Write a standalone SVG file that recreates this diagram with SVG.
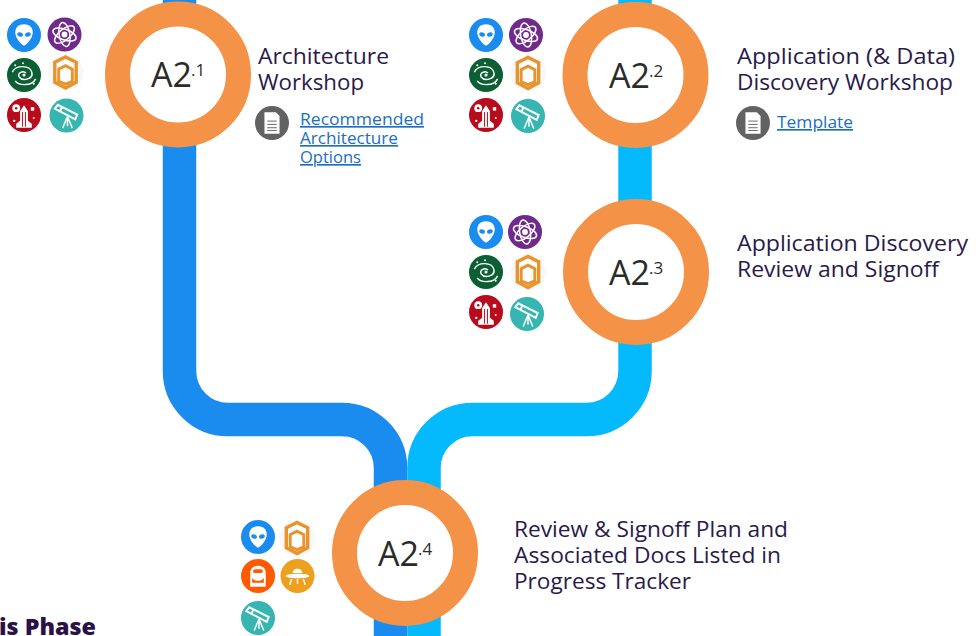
<svg xmlns="http://www.w3.org/2000/svg" width="976" height="636" viewBox="0 0 976 636">
<style>
text{font-family:"Open Sans","Noto Sans","Liberation Sans",sans-serif}
.t{font-size:22.5px;fill:#2a1a4a}
.a{font-size:34px;fill:#2b2b2b;font-weight:500}
.s{font-size:17px;fill:#2b2b2b}
.l{font-size:16.500px;fill:#1a6fc4;text-decoration:underline}
.ring{fill:#fff;stroke:#f49248;stroke-width:25}
.w{fill:none;stroke:#fff;stroke-width:1.500}
.f{fill:#fff}
</style>
<defs>
<symbol id="alien" viewBox="-18 -18 36 36" overflow="visible"><circle r="17.500" fill="#1a8cf0"/><path class="f" d="M0-11C6.500-11 9-7 9-2.500C9 3 3 10 0 11C-3 10-9 3-9-2.500C-9-7-6.500-11 0-11Z"/><ellipse cx="-4" cy="-.5" rx="3" ry="2.200" fill="#1a8cf0" transform="rotate(20 -4 -.5)"/><ellipse cx="4" cy="-.5" rx="3" ry="2.200" fill="#1a8cf0" transform="rotate(-20 4 -.5)"/></symbol>
<symbol id="atom" viewBox="-18 -18 36 36" overflow="visible"><circle r="17.500" fill="#6f2a8c"/><g class="w"><ellipse rx="12.500" ry="5.500" transform="rotate(20)"/><ellipse rx="12.500" ry="5.500" transform="rotate(80)"/><ellipse rx="12.500" ry="5.500" transform="rotate(140)"/></g><circle r="3" class="f"/></symbol>
<symbol id="galaxy" viewBox="-18 -18 36 36" overflow="visible"><circle r="17.500" fill="#0b5f33"/><g class="w"><path d="M-12-3C-8-11 6-10 8-3C10 4-1 7-5 2C-7-2-1-5 2-2"/><path d="M12 4C8 12-6 11-9 6"/></g><circle r="1.600" class="f"/><circle cx="-9" cy="-10" r="1" class="f"/><circle cx="-1" cy="-12" r="1" class="f"/><circle cx="10" cy="9" r="1" class="f"/></symbol>
<symbol id="hex" viewBox="-18 -18 36 36" overflow="visible"><circle r="18.500" fill="#f8f8f8"/><path d="M-11-10.500L0-16L11-10.500V10L0 16L-11 10Z" fill="#fff" stroke="#e8932c" stroke-width="3.500"/><path d="M-7-3.500L0-7L7-3.500V9L0 12L-7 9Z" fill="#fff" stroke="#e8932c" stroke-width="3"/></symbol>
<symbol id="rocket" viewBox="-18 -18 36 36" overflow="visible"><circle r="17.500" fill="#b80c1c"/><path class="f" d="M0-10L4-4V6L8 9V13H-8V9L-4 6V-4Z"/><path d="M-1.500-3V12M1.500-3V12" stroke="#b80c1c" stroke-width="1"/><circle cx="-8" cy="-7" r="4" class="f"/><circle cx="-8" cy="-7" r="1.300" fill="#b80c1c"/><rect x="7" y="-8" width="3.500" height="3.500" class="f"/><circle cx="-10" cy="6" r="1.200" class="f"/><circle cx="10" cy="3" r="1" class="f"/></symbol>
<symbol id="scope" viewBox="-18 -18 36 36" overflow="visible"><circle r="17.500" fill="#37b5b0"/><path fill="none" stroke="#fff" stroke-width="2" d="M-12-7L-9-11L11-1L9 4ZM-5-8L-7-4"/><path class="w" d="M1 1L-4 13M1 1L6 13M1 1V11"/></symbol>
<symbol id="bag" viewBox="-18 -18 36 36" overflow="visible"><circle r="17.500" fill="#ff5a00"/><path class="f" d="M-8-3C-8-13 8-13 8-3V11H-8Z"/><rect x="-5" y="-7" width="10" height="4" rx="2" fill="#ff5a00"/><path d="M-6 2C-3 6 3 6 6 2V7H-6Z" fill="#ff5a00"/></symbol>
<symbol id="ufo" viewBox="-18 -18 36 36" overflow="visible"><circle r="17.500" fill="#eda01e"/><path class="f" d="M-5-3C-5-9 5-9 5-3ZM-12 0C-12-3 12-3 12 0C12 3-12 3-12 0Z"/><path class="w" d="M-6 3L-8 9M6 3L8 9M0 3V8"/></symbol>
<symbol id="doc" viewBox="-18 -18 36 36" overflow="visible"><circle r="18" fill="#626262"/><path class="f" d="M-8-11.500H4L8-7.500V11.500H-8Z"/><path d="M-5-2H5M-5 1.500H5M-5 5H5M-5 8H5" stroke="#626262" stroke-width="1"/></symbol>
</defs>
<rect width="976" height="636" fill="#fff"/>
<g id="connectors" fill="none" stroke-width="33.500">
<path stroke="#1a8cf0" d="M179.500 0V371A48.500 48.500 0 0 0 228 419.500H342A48.500 48.500 0 0 1 390.500 468V636"/>
<path stroke="#05b9fd" d="M635 0V371A48.500 48.500 0 0 1 586.500 419.500H472.500A48.500 48.500 0 0 0 424 468V636"/>
</g>
<g id="node-a2-1">
<circle class="ring" cx="178" cy="74.500" r="60.500"/>
<text class="a" x="151" y="87">A2</text><text class="s" x="191" y="76">.1</text>
<text class="t" x="258" y="64" textLength="131" lengthAdjust="spacingAndGlyphs">Architecture</text><text class="t" x="258" y="90" textLength="106" lengthAdjust="spacingAndGlyphs">Workshop</text>
<use href="#alien" x="6.500" y="17.500" width="35" height="35"/><use href="#atom" x="47" y="17" width="35" height="35"/><use href="#galaxy" x="6.500" y="57.500" width="35" height="35"/><use href="#hex" x="48" y="55" width="35" height="35"/><use href="#rocket" x="6.500" y="97.500" width="35" height="35"/><use href="#scope" x="49" y="98" width="35" height="35"/>
<use href="#doc" x="255" y="106" width="34" height="34"/>
<text class="l" x="300" y="125" textLength="124" lengthAdjust="spacingAndGlyphs">Recommended</text><text class="l" x="300" y="144" textLength="98" lengthAdjust="spacingAndGlyphs">Architecture</text><text class="l" x="300" y="163" textLength="61" lengthAdjust="spacingAndGlyphs">Options</text>
</g>
<g id="node-a2-2">
<circle class="ring" cx="635.500" cy="75" r="60.500"/>
<text class="a" x="609" y="88">A2</text><text class="s" x="649" y="77">.2</text>
<text class="t" x="737" y="64" textLength="218" lengthAdjust="spacingAndGlyphs">Application (&amp; Data)</text><text class="t" x="737" y="90" textLength="216" lengthAdjust="spacingAndGlyphs">Discovery Workshop</text>
<use href="#alien" x="468.500" y="17.500" width="35" height="35"/><use href="#atom" x="508.500" y="17.500" width="35" height="35"/><use href="#galaxy" x="468.500" y="57.500" width="35" height="35"/><use href="#hex" x="510.500" y="55.500" width="35" height="35"/><use href="#rocket" x="468.500" y="97.500" width="35" height="35"/><use href="#scope" x="510.500" y="98.500" width="35" height="35"/>
<use href="#doc" x="736" y="106" width="34" height="34"/>
<text class="l" x="777" y="128" textLength="76" lengthAdjust="spacingAndGlyphs">Template</text>
</g>
<g id="node-a2-3">
<circle class="ring" cx="636" cy="272" r="60.500"/>
<text class="a" x="609" y="285">A2</text><text class="s" x="649" y="274">.3</text>
<text class="t" x="737" y="251" textLength="231" lengthAdjust="spacingAndGlyphs">Application Discovery</text><text class="t" x="737" y="277" textLength="202" lengthAdjust="spacingAndGlyphs">Review and Signoff</text>
<use href="#alien" x="468.500" y="214.500" width="35" height="35"/><use href="#atom" x="507.500" y="214.500" width="35" height="35"/><use href="#galaxy" x="468.500" y="254.500" width="35" height="35"/><use href="#hex" x="510.500" y="254.500" width="35" height="35"/><use href="#rocket" x="468.500" y="294.500" width="35" height="35"/><use href="#scope" x="509.500" y="296.500" width="35" height="35"/>
</g>
<g id="node-a2-4">
<circle class="ring" cx="405" cy="553" r="60.500"/>
<text class="a" x="378" y="566">A2</text><text class="s" x="418" y="555">.4</text>
<text class="t" x="514" y="537" textLength="274" lengthAdjust="spacingAndGlyphs">Review &amp; Signoff Plan and</text><text class="t" x="514" y="563" textLength="267" lengthAdjust="spacingAndGlyphs">Associated Docs Listed in</text><text class="t" x="514" y="589" textLength="177" lengthAdjust="spacingAndGlyphs">Progress Tracker</text>
<use href="#alien" x="240.500" y="519.500" width="35" height="35"/><use href="#hex" x="279.500" y="520.500" width="35" height="35"/><use href="#bag" x="240.500" y="558.500" width="35" height="35"/><use href="#ufo" x="280" y="558.500" width="35" height="35"/><use href="#scope" x="240.500" y="600.500" width="35" height="35"/>
</g>
<text x="-1" y="635" font-size="22" font-weight="800" fill="#2a1248" textLength="97" lengthAdjust="spacingAndGlyphs">is Phase</text>
</svg>
